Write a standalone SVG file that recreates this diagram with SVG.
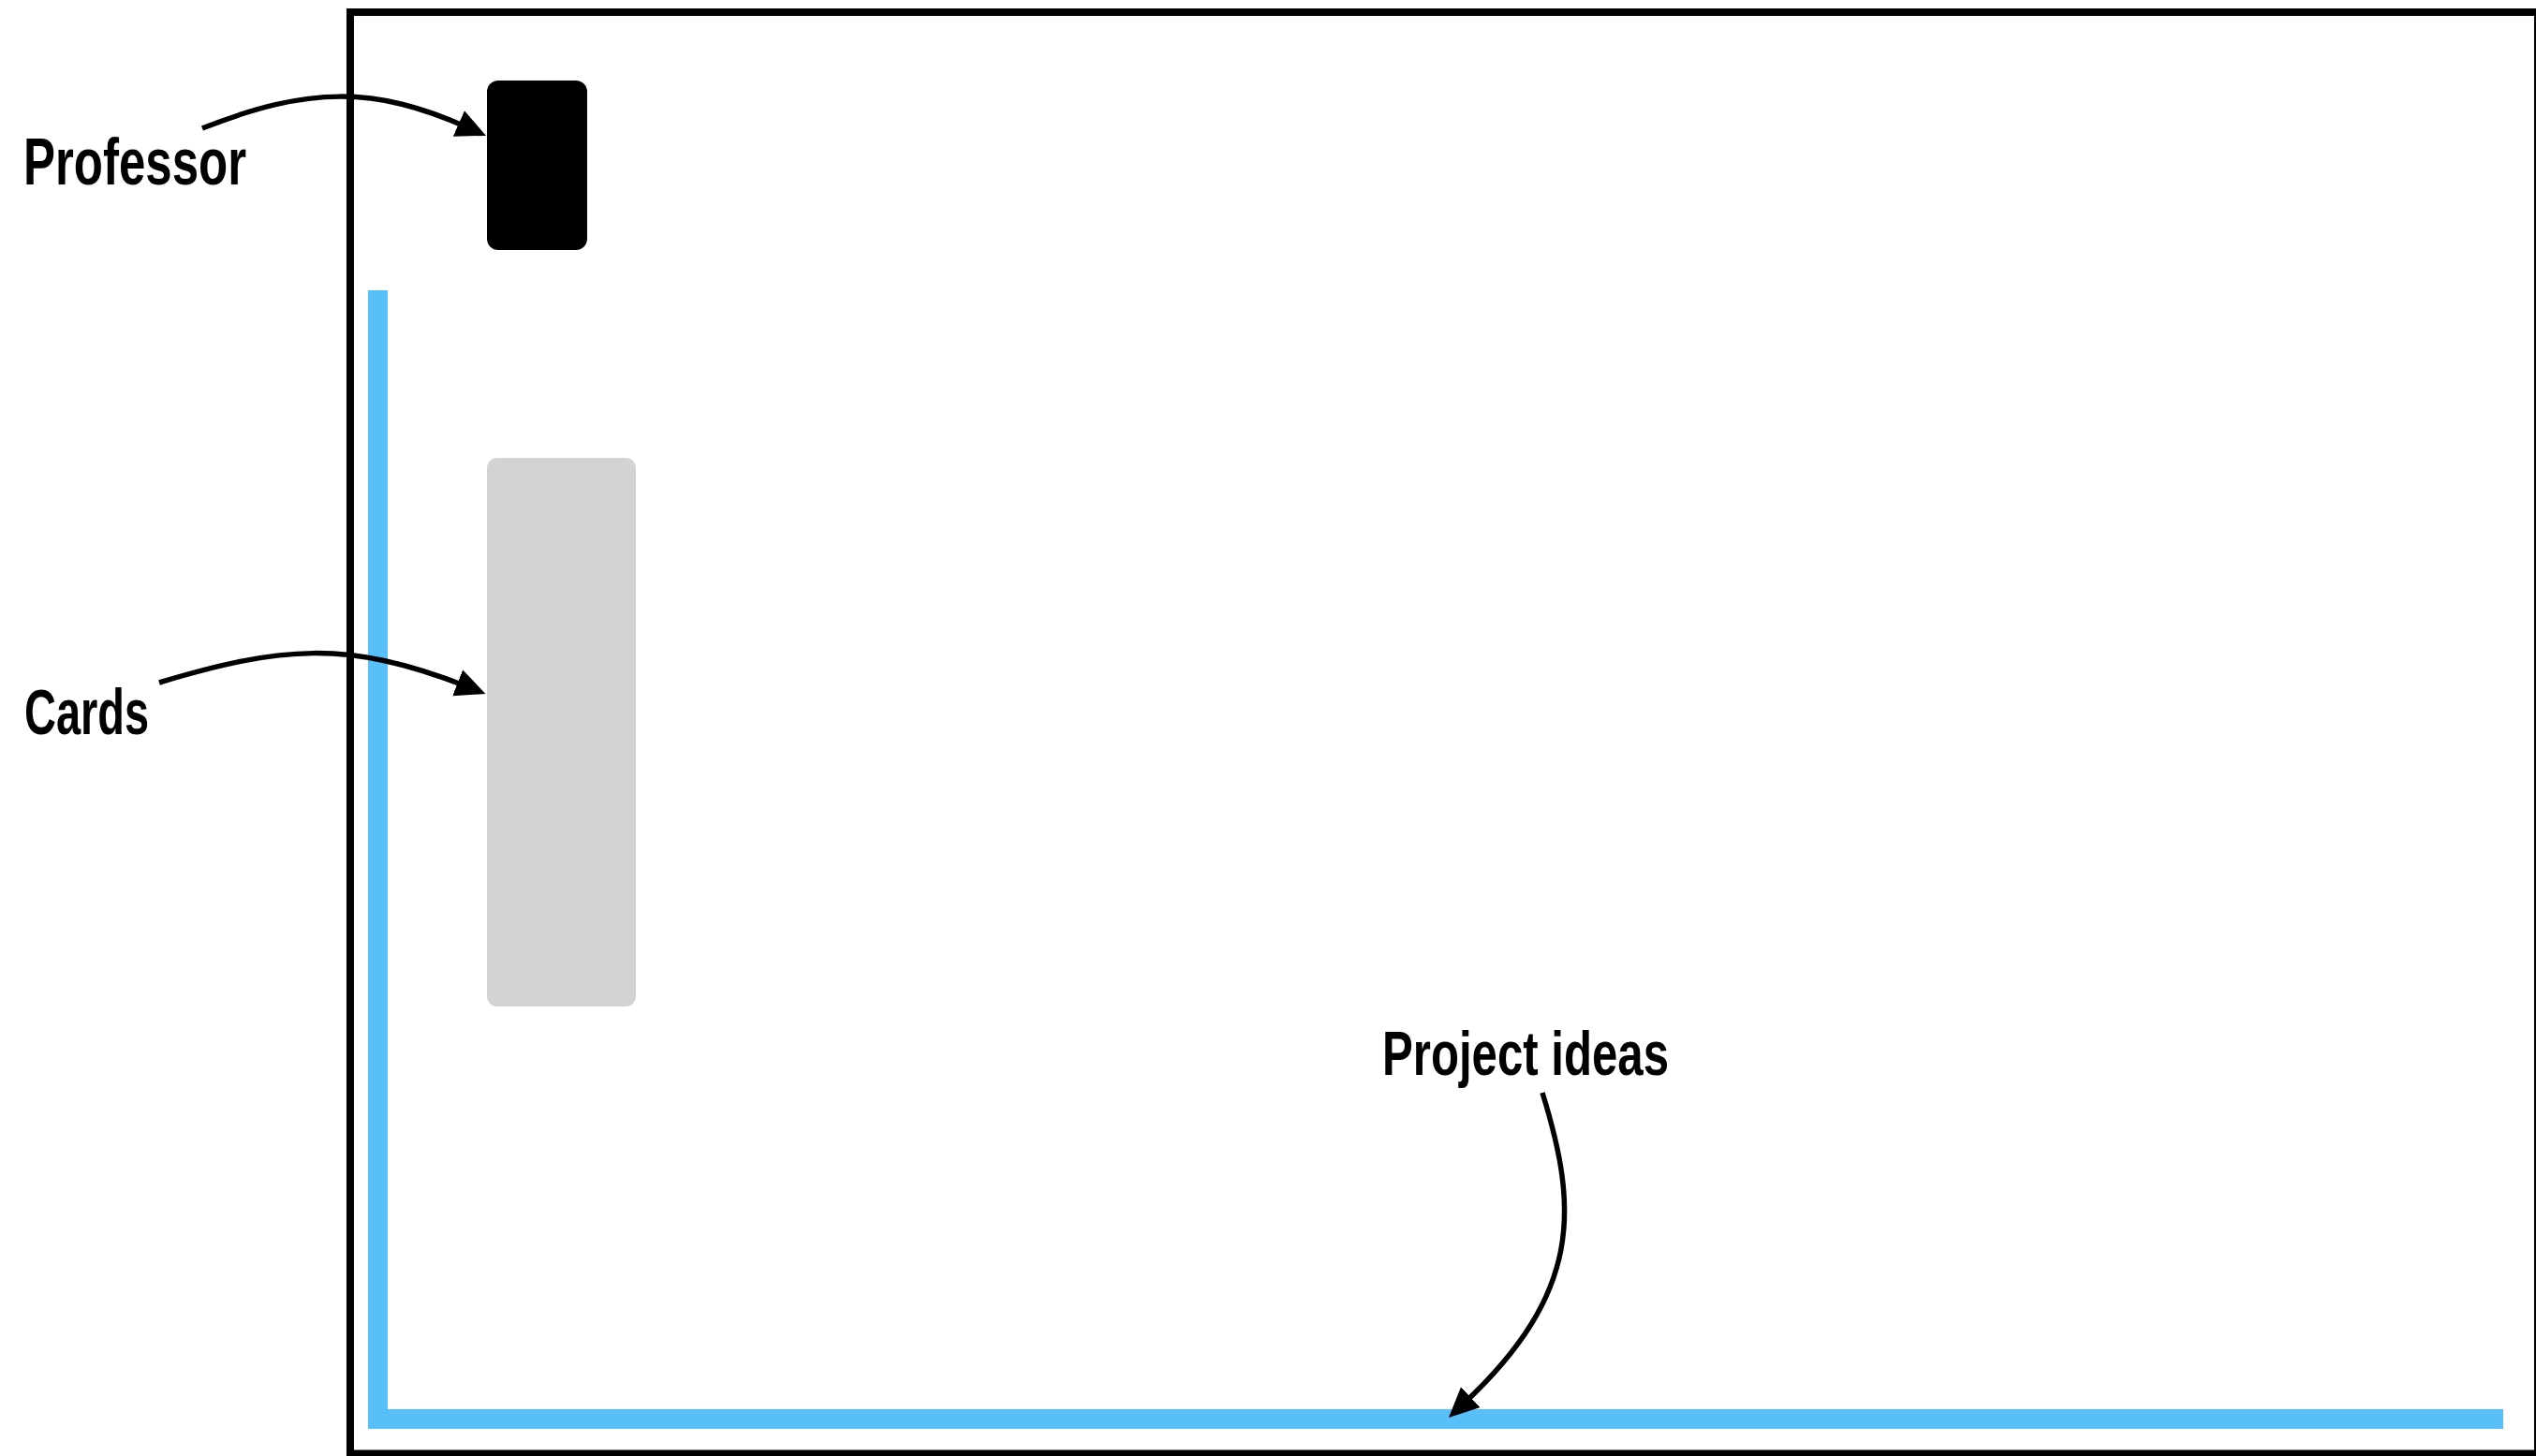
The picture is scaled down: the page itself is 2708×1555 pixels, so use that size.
<svg xmlns="http://www.w3.org/2000/svg" width="2708" height="1555" viewBox="0 0 2708 1555">
  <style>
    .label { font-family: "Liberation Sans Narrow", "Liberation Sans", "DejaVu Sans Condensed", sans-serif; font-weight: bold; fill: #000; }
    .conn { fill: none; stroke: #000; stroke-width: 5.5; stroke-linecap: butt; }
  </style>
  <defs>
    <marker id="arrow" markerUnits="userSpaceOnUse" markerWidth="36" markerHeight="32" refX="10" refY="15" orient="auto" viewBox="0 0 36 32">
      <path d="M0,0 L32,15 L0,30 Z" fill="#000"/>
    </marker>
  </defs>
  <rect width="2708" height="1555" fill="#fff"/>

  <g id="frame">
    <rect x="374" y="13" width="2336" height="1539.5" fill="none" stroke="#000" stroke-width="8"/>
  </g>

  <g id="project-ideas-area">
    <polyline points="403.5,310 403.5,1515.5 2673,1515.5" fill="none" stroke="#58bff9" stroke-width="21" stroke-linejoin="miter" stroke-linecap="butt"/>
  </g>

  <g id="professor">
    <rect x="520" y="86" width="107" height="181" rx="12" ry="12" fill="#000"/>
  </g>

  <g id="cards">
    <rect x="520" y="489" width="159" height="586" rx="11" ry="11" fill="#d3d3d3"/>
  </g>

  <g id="label-professor">
    <text class="label" x="25" y="197" font-size="70" textLength="238" lengthAdjust="spacingAndGlyphs">Professor</text>
  </g>
  <g id="label-cards">
    <text class="label" x="26" y="784" font-size="68" textLength="133" lengthAdjust="spacingAndGlyphs">Cards</text>
  </g>
  <g id="label-project-ideas">
    <text class="label" x="1476" y="1148" font-size="66" textLength="306" lengthAdjust="spacingAndGlyphs">Project ideas</text>
  </g>

  <g id="connectors">
    <path class="conn" d="M216,137 C330,92 400,92 499,136" marker-end="url(#arrow)"/>
    <path class="conn" d="M170,729 C300,690 370,683 498,733" marker-end="url(#arrow)"/>
    <path class="conn" d="M1647,1167 C1685,1290 1690,1380 1563,1499" marker-end="url(#arrow)"/>
  </g>
</svg>
